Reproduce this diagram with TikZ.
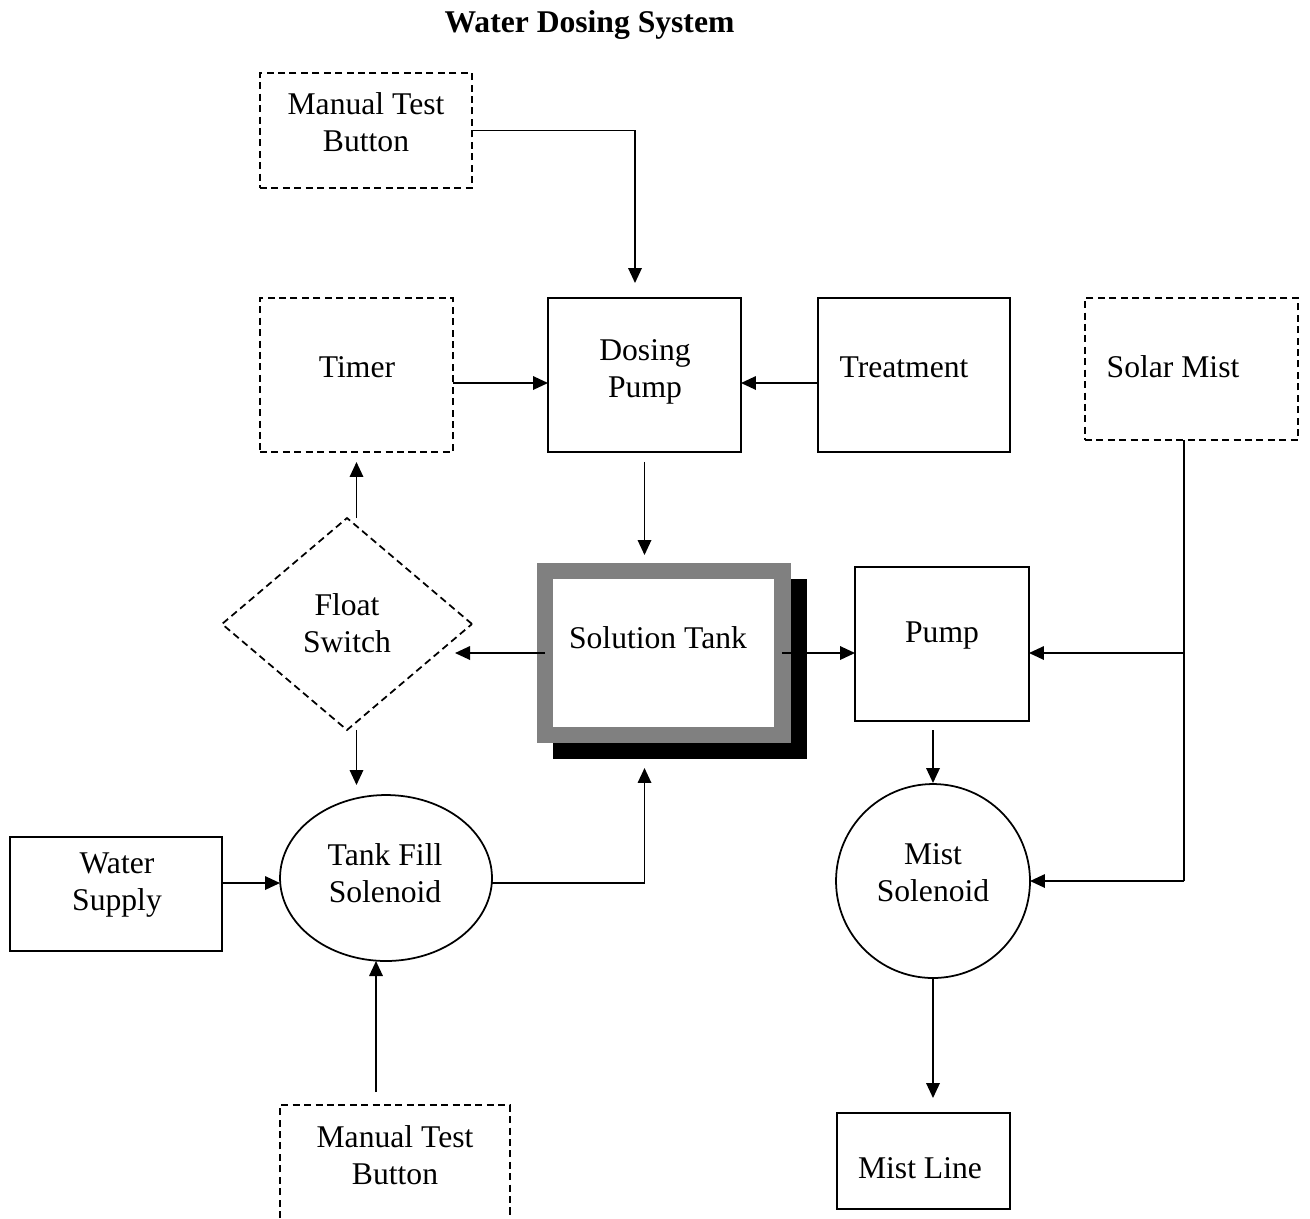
\documentclass[tikz,border=0pt]{standalone}
\usepackage{fontspec}
\setmainfont{Liberation Serif}
\usetikzlibrary{shapes.geometric,arrows.meta,calc,backgrounds}
\begin{document}
\begin{tikzpicture}[x=0.02cm,y=-0.02cm,
  dashline/.style={dash pattern=on 4pt off 2.5pt},
  box/.style={draw, line width=1pt, inner sep=0pt, outer sep=0pt, rectangle},
  dbox/.style={box, dashline},
  conn/.style={line width=1pt},
  arr/.style={line width=1pt, -{Triangle[length=0.3cm,width=0.27cm]}},
  lbl/.style={font=\fontsize{18}{21}\selectfont, align=center, inner sep=0pt},
]
\useasboundingbox (0,0) rectangle (1310,1218);

% title
\node[lbl, font=\fontsize{18}{21}\selectfont\bfseries] (title) at (589.5,25) {Water Dosing System};

% boxes
\node[dbox, minimum width=4.24cm, minimum height=2.3cm] (mtb1) at (366,130.5) {};
\node[dbox, minimum width=3.86cm, minimum height=3.08cm] (timer) at (356.5,375) {};
\node[box, minimum width=3.86cm, minimum height=3.08cm] (dosing) at (644.5,375) {};
\node[box, minimum width=3.84cm, minimum height=3.08cm] (treatment) at (914,375) {};
\node[dbox, minimum width=4.26cm, minimum height=2.84cm] (solar) at (1191.5,369) {};
\node[draw=gray, fill=white, line width=0.33cm, inner sep=0pt, outer sep=0pt,
      minimum width=4.75cm, minimum height=3.28cm] (tank) at (663.75,653) {};
\begin{scope}[on background layer]
\node[fill=black, inner sep=0pt, outer sep=0pt, minimum width=5.08cm, minimum height=3.6cm] (tankshadow) at (680,669) {};
\end{scope}
\node[box, minimum width=3.48cm, minimum height=3.08cm] (pump) at (942,644) {};
\node[draw, diamond, dashline, line width=1pt, inner sep=0pt, outer sep=0pt,
      minimum width=5cm, minimum height=4.24cm] (float) at (347,624) {};
\node[box, minimum width=4.24cm, minimum height=2.28cm] (water) at (116,894) {};
\node[draw, ellipse, line width=1pt, inner sep=0pt, outer sep=0pt,
      minimum width=4.24cm, minimum height=3.32cm] (tankfill) at (386,878) {};
\node[draw, circle, line width=1pt, inner sep=0pt, outer sep=0pt,
      minimum size=3.88cm] (mist) at (933,881) {};
\node[box, minimum width=3.46cm, minimum height=1.92cm] (mistline) at (923.5,1161) {};
\node[inner sep=0pt, outer sep=0pt, minimum width=4.6cm, minimum height=2.26cm] (mtb2) at (395,1161.5) {};
\draw[line width=1pt, dashline] (mtb2.south west) -- (mtb2.north west) -- (mtb2.north east) -- (mtb2.south east);

% labels
\node[lbl] (t-mtb1) at (366,122) {Manual Test\\Button};
\node[lbl] (t-timer) at (357,367) {Timer};
\node[lbl] (t-dosing) at (645,372) {Dosing\\Pump};
\node[lbl] (t-treat) at (904,367) {Treatment};
\node[lbl] (t-solar) at (1173,367) {Solar Mist};
\node[lbl] (t-float) at (347,623) {Float\\Switch};
\node[lbl] (t-tank) at (658,638) {Solution Tank};
\node[lbl] (t-pump) at (942,635) {Pump};
\node[lbl] (t-water) at (117,885) {Water\\Supply};
\node[lbl] (t-tankfill) at (385,873) {Tank Fill\\Solenoid};
\node[lbl] (t-mist) at (933,873) {Mist\\Solenoid};
\node[lbl] (t-mtb2) at (395,1155) {Manual Test\\Button};
\node[lbl] (t-mistline) at (920,1168) {Mist Line};

% connectors
\draw[arr, shorten >=0.3cm] (mtb1.east) -| ($(dosing.north)+(-9.5,0)$);
\draw[arr] ($(timer.east)+(0,8)$) -- ($(dosing.west)+(0,8)$);
\draw[arr] ($(treatment.west)+(0,8)$) -- ($(dosing.east)+(0,8)$);
\draw[arr, shorten <=0.2cm, shorten >=0.32cm] (dosing.south) -- (dosing.south |- tank.north);
\draw[arr] (tank.west) -- ($(float.center |- tank.west)+(108,0)$);
\draw[arr] (tank.east) -- (tank.east -| pump.west);
\draw[arr, shorten >=0.2cm] (float.north -| timer.south) -- (timer.south);
\draw[arr, shorten >=0.2cm] (float.south -| timer.south) -- (timer.south |- tankfill.north);
\draw[arr] ($(water.east)+(0,-11)$) -- ($(water.east -| tankfill.west)+(0,-11)$);
\draw[arr, shorten >=0.18cm] ($(tankfill.east)+(0,5)$) -| (dosing.south |- tankshadow.south);
\coordinate (mtbin) at ($(mtb2.north)+(-19,-13)$);
\draw[arr] (mtbin) -- (mtbin |- tankfill.south);
\draw[arr, shorten <=0.18cm, shorten >=0.02cm] (pump.south -| mist.north) -- (mist.north);
\draw[arr, shorten >=0.3cm] (mist.south) -- (mist.south |- mistline.north);
\coordinate (sj) at ($(solar.south)+(-7.5,0)$);
\draw[conn] (sj) -- (sj |- mist.east);
\draw[arr] ($(sj |- pump.east)+(0,9)$) -- ($(pump.east)+(0,9)$);
\draw[arr] (sj |- mist.east) -- (mist.east);
\end{tikzpicture}
\end{document}
